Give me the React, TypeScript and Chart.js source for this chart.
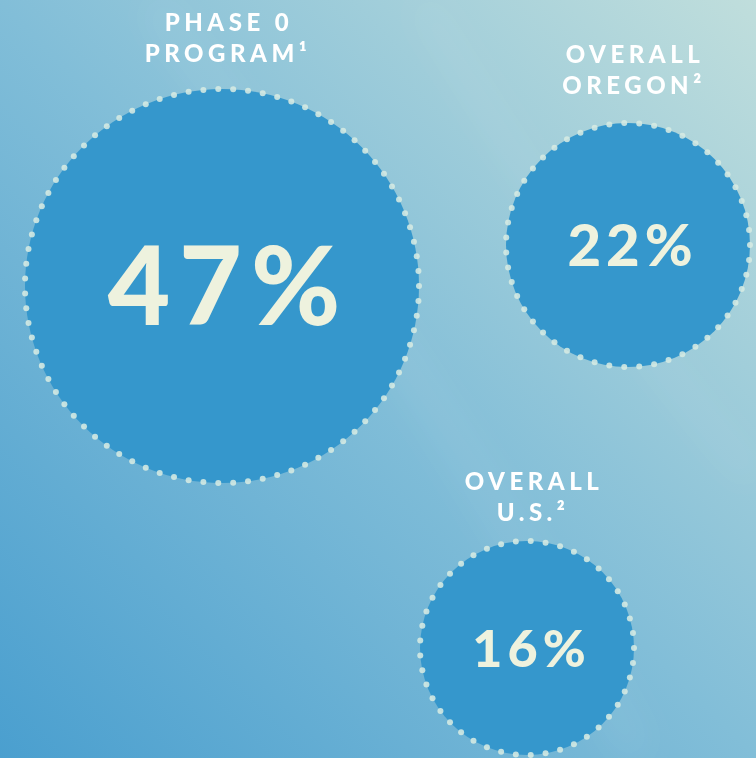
import React, { useEffect, useRef } from "react";
import { Chart, registerables } from "chart.js";

Chart.register(...registerables);

const categories = [["PHASE 0", "PROGRAM¹"], ["OVERALL", "OREGON²"], ["OVERALL", "U.S.²"]];
const values = [47, 22, 16];
const valueLabels = ["47%", "22%", "16%"];
const bubbleX = [222, 628, 527];
const bubbleY = [286, 245, 648];
const bubbleSize = [197, 122, 107];

const W = 756;
const H = 758;
const valueFont = [108, 58, 52];
const valueSpacing = [9, 5, 5];
const titleGap = [35, 37, 28];

const backgroundPlugin = {
  id: "bg",
  beforeDraw(chart: any) {
    const ctx = chart.ctx;
    ctx.save();
    const g = ctx.createLinearGradient(0, H, W, 0);
    g.addColorStop(0, "#4a9fcf");
    g.addColorStop(0.5, "#82bed8");
    g.addColorStop(1, "#c0dedc");
    ctx.fillStyle = g;
    ctx.fillRect(0, 0, W, H);
    ctx.filter = "blur(18px)";
    ctx.strokeStyle = "rgba(255,255,255,0.06)";
    ctx.lineWidth = 40;
    ctx.beginPath();
    ctx.moveTo(150, 0);
    ctx.quadraticCurveTo(420, 350, 640, 758);
    ctx.stroke();
    ctx.lineWidth = 30;
    ctx.beginPath();
    ctx.moveTo(420, 0);
    ctx.quadraticCurveTo(600, 300, 756, 480);
    ctx.stroke();
    ctx.filter = "none";
    ctx.restore();
  },
};

const labelPlugin = {
  id: "labels",
  afterDatasetsDraw(chart: any) {
    const ctx = chart.ctx;
    const meta = chart.getDatasetMeta(0);
    meta.data.forEach((el: any, i: number) => {
      const r = el.options.radius;
      const cx = el.x;
      const cy = el.y;
      const spacing = 15;
      const n = Math.round((2 * Math.PI * r) / spacing);
      ctx.save();
      ctx.fillStyle = "rgba(214,234,226,0.88)";
      for (let k = 0; k < n; k++) {
        const a = (k / n) * Math.PI * 2;
        ctx.beginPath();
        ctx.arc(cx + Math.cos(a) * r, cy + Math.sin(a) * r, 3, 0, Math.PI * 2);
        ctx.fill();
      }
      ctx.restore();

      const fs = valueFont[i];
      const ls = valueSpacing[i];
      ctx.save();
      ctx.fillStyle = "#eef2de";
      ctx.font = `900 ${fs}px Lato`;
      (ctx as any).letterSpacing = `${ls}px`;
      ctx.textAlign = "center";
      ctx.textBaseline = "alphabetic";
      ctx.fillText(valueLabels[i], cx + ls / 2 + 2, cy + fs * 0.36);
      ctx.restore();

      ctx.save();
      ctx.fillStyle = "#ffffff";
      ctx.font = "900 24px Lato";
      (ctx as any).letterSpacing = "4.5px";
      ctx.textAlign = "center";
      ctx.textBaseline = "middle";
      const lines = categories[i];
      const top = cy - r;
      ctx.fillText(lines[1], cx + 6, top - titleGap[i]);
      ctx.fillText(lines[0], cx + 7, top - titleGap[i] - 31);
      ctx.restore();
    });
  },
};

export default function App() {
  const ref = useRef<HTMLCanvasElement>(null);
  useEffect(() => {
    if (!ref.current) return;
    const chart = new Chart(ref.current, {
      type: "bubble",
      data: {
        datasets: [
          {
            label: "Share",
            data: values.map((v, i) => ({ x: bubbleX[i], y: bubbleY[i], r: bubbleSize[i], v })),
            backgroundColor: "#3597cc",
            borderWidth: 0,
            hoverBorderWidth: 0,
            clip: false as any,
          },
        ],
      },
      options: {
        responsive: false,
        animation: false,
        layout: { padding: 0, autoPadding: false } as any,
        plugins: { legend: { display: false }, tooltip: { enabled: false } },
        scales: {
          x: { type: "linear", min: 0, max: W, display: false },
          y: { type: "linear", min: 0, max: H, reverse: true, display: false },
        },
      },
      plugins: [backgroundPlugin, labelPlugin],
    });
    return () => chart.destroy();
  }, []);
  return (
    <div style={{ position: "fixed", left: 0, top: 0, width: W, height: H }}>
      <canvas ref={ref} width={W} height={H} style={{ display: "block", width: W, height: H }} />
    </div>
  );
}
